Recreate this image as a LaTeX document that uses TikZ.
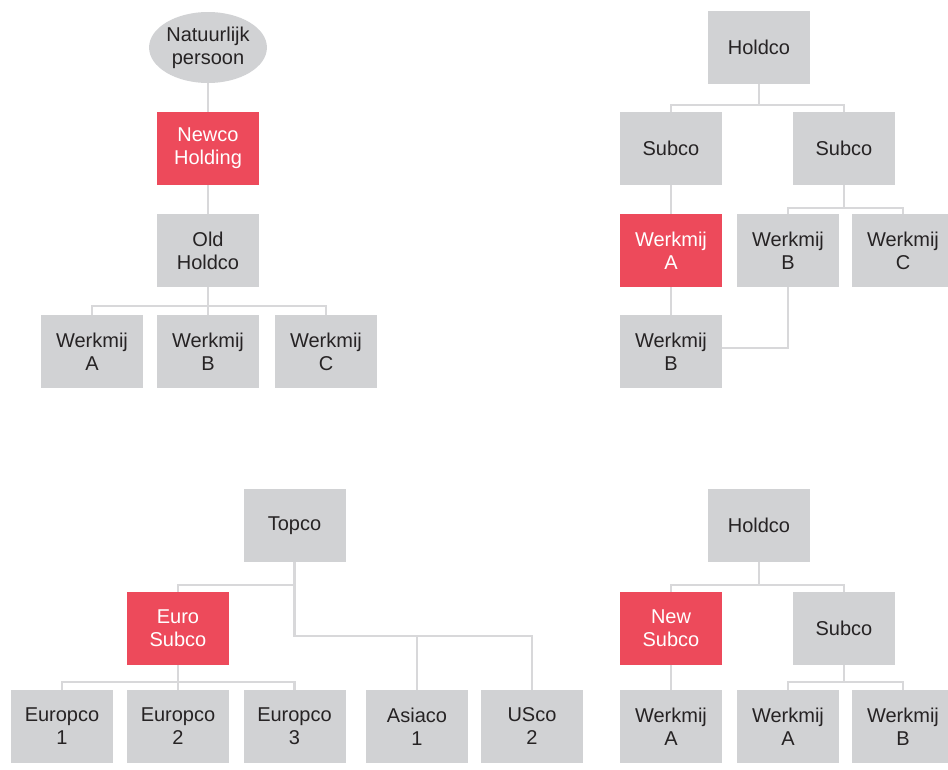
\documentclass[tikz,border=0pt]{standalone}
\usepackage{fontspec}
\setmainfont{Liberation Sans}
\usetikzlibrary{shapes.geometric,backgrounds}
\definecolor{boxgray}{HTML}{D1D2D4}
\definecolor{boxred}{HTML}{ED4A5B}
\definecolor{linegray}{HTML}{D8D8DA}
\definecolor{txt}{HTML}{262324}
\tikzset{
  org/.style={rectangle, fill=boxgray, minimum width=102pt, minimum height=73pt, inner sep=0pt,
    text=txt, align=center, font=\fontsize{20}{23}\selectfont},
  orgred/.style={org, fill=boxred, text=white},
  person/.style={ellipse, fill=boxgray, minimum width=112pt, minimum height=71pt, inner sep=0pt,
    text=txt, align=center, font=\fontsize{20}{23}\selectfont},
  link/.style={draw=linegray, line width=2.8pt}
}
\begin{document}
\begin{tikzpicture}[x=1pt,y=-1pt]
\useasboundingbox (0,0) rectangle (948,769);
% ---------- top left ----------
\node[person] (np) at (208,47.5) {Natuurlijk\\persoon};
\node[orgred] (newco) at (208,148.5) {Newco\\Holding};
\node[org] (oldh) at (208,250.5) {Old\\Holdco};
\node[org] (tlwa) at (92,351.5) {Werkmij\\A};
\node[org] (tlwb) at (208,351.5) {Werkmij\\B};
\node[org] (tlwc) at (326,351.5) {Werkmij\\C};
\coordinate (tlb) at (208,306);
% ---------- top right ----------
\node[org] (trh) at (759,47.5) {Holdco};
\node[org] (trsl) at (671,148.5) {Subco};
\node[org] (trsr) at (844,148.5) {Subco};
\node[orgred] (trwa) at (671,250.5) {Werkmij\\A};
\node[org] (trwb) at (788,250.5) {Werkmij\\B};
\node[org] (trwc) at (903,250.5) {Werkmij\\C};
\node[org] (trwb2) at (671,351.5) {Werkmij\\B};
\coordinate (trb1) at (759,105);
\coordinate (trb2) at (844,208);
\coordinate (trb3) at (722,348);
% ---------- bottom left ----------
\node[org] (topco) at (294.5,525.5) {Topco};
\node[orgred] (euro) at (178,628.5) {Euro\\Subco};
\node[org] (e1) at (62,726.5) {Europco\\1};
\node[org] (e2) at (178,726.5) {Europco\\2};
\node[org] (e3) at (294.5,726.5) {Europco\\3};
\node[org] (asia) at (417,726.5) {Asiaco\\1};
\node[org] (us) at (532,726.5) {USco\\2};
\coordinate (blb1) at (294.5,585);
\coordinate (blb2) at (294.5,636);
\coordinate (blb3) at (178,682);
% ---------- bottom right ----------
\node[org] (brh) at (759,525.5) {Holdco};
\node[orgred] (brns) at (671,628.5) {New\\Subco};
\node[org] (brs) at (844,628.5) {Subco};
\node[org] (brwa1) at (671,726.5) {Werkmij\\A};
\node[org] (brwa2) at (788,726.5) {Werkmij\\A};
\node[org] (brwb) at (903,726.5) {Werkmij\\B};
\coordinate (brb1) at (759,585);
\coordinate (brb2) at (844,682);
% ---------- connectors ----------
\begin{scope}[on background layer]
\draw[link] (np.south) -- (newco.north);
\draw[link] (newco.south) -- (oldh.north);
\draw[link] (oldh.south) -- (tlwb.north);
\draw[link] (tlwa.north) |- (tlb) -| (tlwc.north);
\draw[link] (trh.south) -- (trb1);
\draw[link] (trsl.north) |- (trb1) -| (trsr.north);
\draw[link] (trsl.south) -- (trwa.north);
\draw[link] (trwa.south) -- (trwb2.north);
\draw[link] (trsr.south) -- (trb2);
\draw[link] (trwb.north) |- (trb2) -| (trwc.north);
\draw[link] (trwb.south) |- (trb3);
\draw[link] (topco.south) -- (blb2) -| (us.north);
\draw[link] (euro.north) |- (blb1);
\draw[link] (blb2 -| asia.north) -- (asia.north);
\draw[link] (euro.south) -- (e2.north);
\draw[link] (e1.north) |- (blb3) -| (e3.north);
\draw[link] (brh.south) -- (brb1);
\draw[link] (brns.north) |- (brb1) -| (brs.north);
\draw[link] (brns.south) -- (brwa1.north);
\draw[link] (brs.south) -- (brb2);
\draw[link] (brwa2.north) |- (brb2) -| (brwb.north);
\end{scope}
\end{tikzpicture}
\end{document}
